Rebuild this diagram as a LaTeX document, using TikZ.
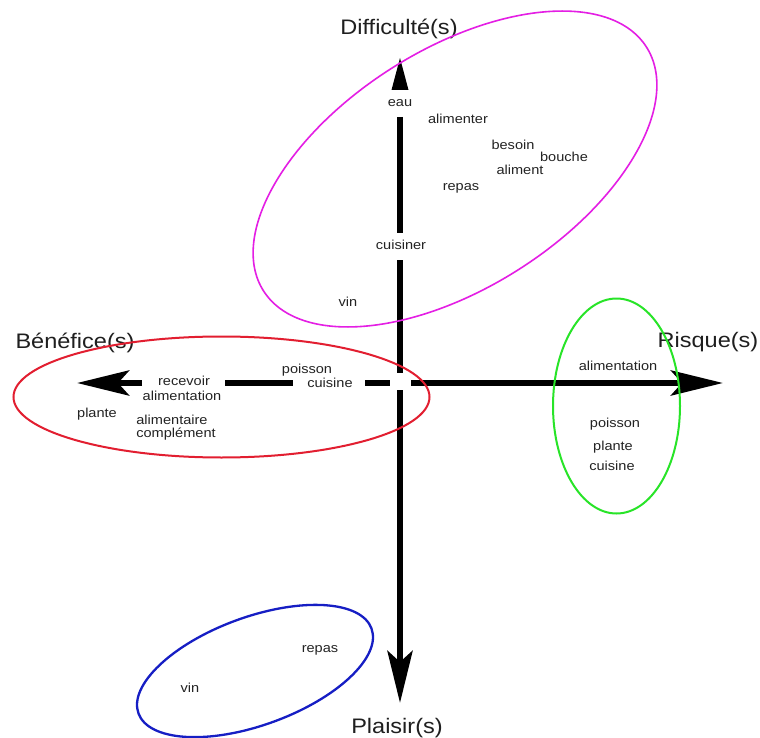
\documentclass[tikz,border=0pt]{standalone}
\usepackage{fontspec}
\setmainfont[FakeStretch=1.12]{Liberation Sans}
\usetikzlibrary{arrows.meta}

\definecolor{zonemagenta}{RGB}{228,30,228}
\definecolor{zonered}{RGB}{226,30,48}
\definecolor{zonegreen}{RGB}{40,228,40}
\definecolor{zoneblue}{RGB}{22,30,196}
\definecolor{wordgray}{RGB}{35,35,35}

\begin{document}
\begin{tikzpicture}[x=1pt,y=-1pt,
  axis/.style={line width=6.5pt, black},
  bigtip/.style={-{Stealth[length=52pt,width=25pt,inset=11pt]}},
  word/.style={anchor=base, inner sep=0pt, text=wordgray,
    font=\fontsize{13}{15}\selectfont},
  axislabel/.style={anchor=base, inner sep=0pt, text=black!88,
    font=\fontsize{21}{25}\selectfont},
  zone/.style={line width=2pt}]

\useasboundingbox[fill=white] (0,0) rectangle (760,738);

% ---------- axis end points and breaks ----------
\coordinate (ttip)  at (400,58);
\coordinate (tbase) at (400,90);
\coordinate (v1a) at (400,117);
\coordinate (v1b) at (400,233);
\coordinate (v2a) at (400,260);
\coordinate (v2b) at (400,373);
\coordinate (v3a) at (400,390);
\coordinate (btip) at (400,703);

\coordinate (ltip) at (77,383);
\coordinate (h1a) at (142,383);
\coordinate (h2a) at (225,383);
\coordinate (h2b) at (293,383);
\coordinate (h3a) at (365,383);
\coordinate (h3b) at (390,383);
\coordinate (h4a) at (411,383);
\coordinate (rtip) at (723,383);

% vertical axis
\fill (ttip) -- ([xshift=-8.5pt]tbase) -- ([xshift=8.5pt]tbase) -- cycle;
\draw[axis] (v1a) -- (v1b);
\draw[axis] (v2a) -- (v2b);
\draw[axis, bigtip] (v3a) -- (btip);

% horizontal axis
\draw[axis, bigtip] (h1a) -- (ltip);
\draw[axis] (h2a) -- (h2b);
\draw[axis] (h3a) -- (h3b);
\draw[axis, bigtip] (h4a) -- (rtip);

% ---------- axis titles ----------
\node[axislabel] (diff)  at (399,35)  {Difficulté(s)};
\node[axislabel] (bene)  at (75,348)  {Bénéfice(s)};
\node[axislabel] (risk)  at (708,347) {Risque(s)};
\node[axislabel] (plais) at (397,733) {Plaisir(s)};

% ---------- words: difficulties ----------
\node[word] (d-eau)      at (400,107) {eau};
\node[word] (d-alimenter) at (458,124) {alimenter};
\node[word] (d-besoin)   at (513,150) {besoin};
\node[word] (d-bouche)   at (564,162) {bouche};
\node[word] (d-aliment)  at (520,175) {aliment};
\node[word] (d-repas)    at (461,190) {repas};
\node[word] (d-cuisiner) at (401,249) {cuisiner};
\node[word] (d-vin)      at (348,306) {vin};

% ---------- words: benefits ----------
\node[word] (b-recevoir) at (184,385) {recevoir};
\node[word] (b-alimentation) at (182,400) {alimentation};
\node[word] (b-poisson)  at (307,373) {poisson};
\node[word] (b-cuisine)  at (330,387) {cuisine};
\node[word] (b-plante)   at (97,417)  {plante};
\node[word] (b-alimentaire) at (172,424) {alimentaire};
\node[word] (b-complement) at (176,437) {complément};

% ---------- words: risks ----------
\node[word] (r-alimentation) at (618,370) {alimentation};
\node[word] (r-poisson)  at (615,427) {poisson};
\node[word] (r-plante)   at (613,450) {plante};
\node[word] (r-cuisine)  at (612,470) {cuisine};

% ---------- words: pleasure ----------
\node[word] (p-repas) at (320,652) {repas};
\node[word] (p-vin)   at (190,692) {vin};

% ---------- grouping ellipses ----------
\draw[zone, zonemagenta, line width=1.6pt, rotate around={32.5:(455,169)}]
  (455,169) ellipse [x radius=227pt, y radius=119pt];
\draw[zone, zonered]
  (221.5,397) ellipse [x radius=208pt, y radius=60.5pt];
\draw[zone, zonegreen]
  (616.5,406) ellipse [x radius=63.5pt, y radius=107.5pt];
\draw[zone, zoneblue, line width=2.3pt, rotate around={20:(255,671)}]
  (255,671) ellipse [x radius=124pt, y radius=54pt];
\end{tikzpicture}
\end{document}
